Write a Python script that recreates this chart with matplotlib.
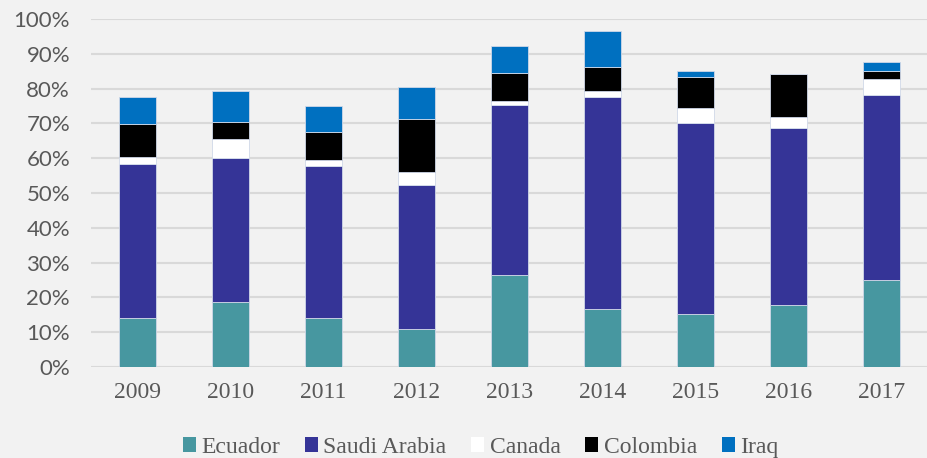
import numpy as np
import matplotlib.pyplot as plt
from matplotlib.ticker import PercentFormatter

years = ['2009', '2010', '2011', '2012', '2013', '2014', '2015', '2016', '2017']

# shares of imports, percent
ecuador = [14.2, 18.6, 14.0, 11.0, 26.3, 16.7, 15.2, 17.7, 25.0]
saudi = [44.0, 41.6, 43.9, 41.3, 49.0, 60.8, 55.0, 50.9, 53.3]
canada = [2.2, 5.4, 1.5, 3.6, 1.0, 1.8, 4.1, 3.3, 4.6]
colombia = [9.3, 4.8, 8.2, 15.4, 8.1, 7.0, 8.9, 12.2, 2.2]
iraq = [7.8, 9.0, 7.5, 9.1, 7.9, 10.2, 1.8, 0.0, 2.6]

series = [
    ('Ecuador', ecuador, '#4797a0'),
    ('Saudi Arabia', saudi, '#353497'),
    ('Canada', canada, '#ffffff'),
    ('Colombia', colombia, '#000000'),
    ('Iraq', iraq, '#0070c0'),
]

bg = '#f2f2f2'
fig = plt.figure(figsize=(9.28, 4.58), dpi=100, facecolor=bg)
ax = fig.add_axes([0.098, 0.1987, 0.902, 0.7598], facecolor=bg)

x = np.arange(len(years))
bottom = np.zeros(len(years))
for name, vals, col in series:
    v = np.array(vals) / 100
    ax.bar(x, v, 0.4, bottom=bottom, color=col, label=name,
           edgecolor='#d0d8e8', linewidth=0.6, zorder=3)
    bottom += v

ax.set_ylim(0, 1)
ax.set_xlim(-0.5, len(years) - 0.5)
ax.set_yticks(np.arange(0, 1.01, 0.1))
ax.yaxis.set_major_formatter(PercentFormatter(1.0, decimals=0))
ax.grid(axis='y', color='#d9d9d9', linewidth=1.5, zorder=0)
ax.set_axisbelow(True)
for s in ax.spines.values():
    s.set_visible(False)
ax.tick_params(length=0)
ax.tick_params(axis='y', pad=15, labelsize=16, labelcolor='#595959')
ax.set_xticks(x)
ax.set_xticklabels(years, family='Liberation Serif', fontsize=17, color='#595959')
ax.tick_params(axis='x', pad=11)
for lbl in ax.get_yticklabels():
    lbl.set_family('Lato')

leg = fig.legend(loc='lower center', bbox_to_anchor=(0.518, -0.047), ncol=5,
                 frameon=False, handlelength=0.55, handleheight=0.6,
                 handletextpad=0.22, columnspacing=1.06,
                 prop={'family': 'Liberation Serif', 'size': 17})
for t in leg.get_texts():
    t.set_color('#595959')
for h in leg.legend_handles:
    h.set_edgecolor('none')

fig.savefig('out.png', dpi=100, facecolor=bg)
